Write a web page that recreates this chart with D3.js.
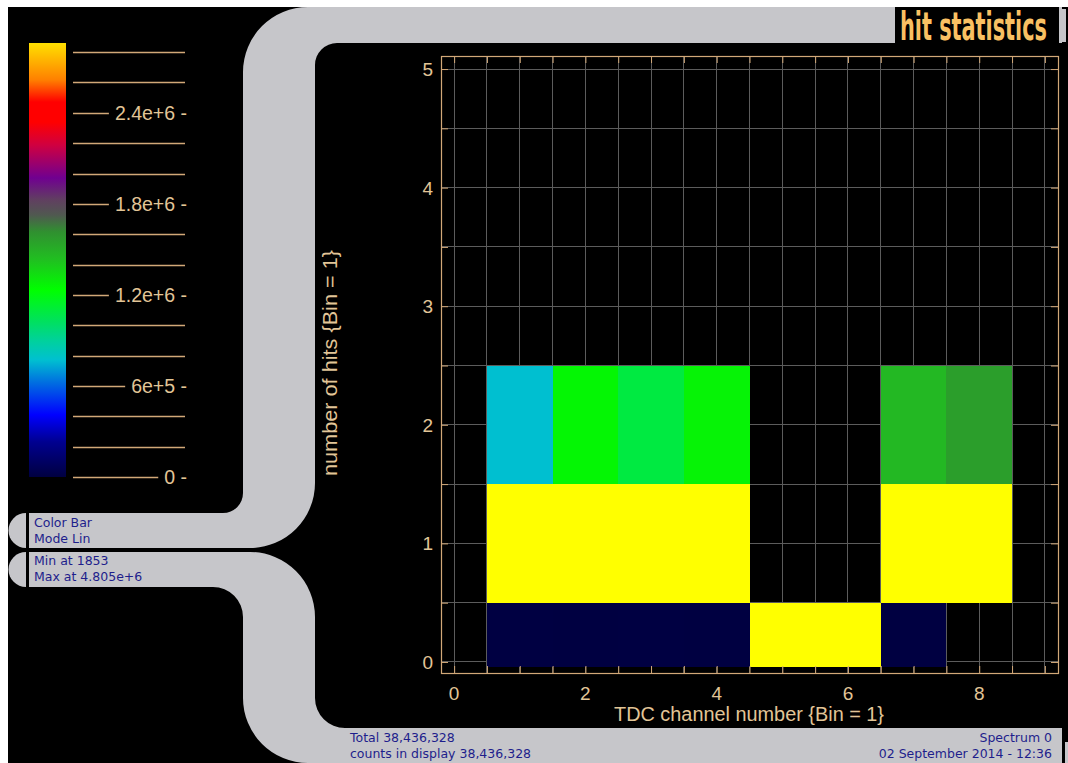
<!DOCTYPE html>
<html>
<head>
<meta charset="utf-8">
<script src="https://cdn.jsdelivr.net/npm/d3@7"></script>
<style>
  html, body { margin: 0; padding: 0; background: #ffffff; }
  svg { display: block; }
</style>
</head>
<body>
<svg id="chart" width="1068" height="763"></svg>
<script>
// ---------------- data ----------------
const channels = [1, 2, 3, 4, 5, 6, 7, 8];
const hitCounts = [0, 1, 2];
const zeroHits = [5200, 3100, 4400, 2600, 4804541, 4804541, 1853, 0];
const oneHit   = [4029341, 3541441, 3710141, 3531941, 0, 0, 3342688, 3244541];
const twoHits  = [770000, 1260000, 1090000, 1270000, 0, 0, 1460000, 1560000];

const xTickValues = [0, 2, 4, 6, 8];
const yTickValues = [0, 1, 2, 3, 4, 5];
const colorBarTicks = [0, 200000, 400000, 600000, 800000, 1000000, 1200000, 1400000,
                       1600000, 1800000, 2000000, 2200000, 2400000, 2600000, 2800000];
const colorBarLabelValues = [0, 600000, 1200000, 1800000, 2400000];
const colorBarLabels = ["0", "6e+5", "1.2e+6", "1.8e+6", "2.4e+6"];
const colorBarMax = 2860000;

const paletteStops  = [0, 0.081, 0.143, 0.219, 0.27, 0.311, 0.357, 0.431, 0.5, 0.565, 0.604, 0.638, 0.689, 0.765, 0.818, 0.864, 0.915, 1];
const paletteColors = ["#000040", "#000090", "#0000ff", "#0070e0", "#00c0d0", "#00d0a0", "#00e060", "#00ff00",
                       "#20c020", "#309030", "#505850", "#604060", "#700090", "#d00040", "#ff0000", "#ff0000", "#ff8000", "#ffe000"];
const overflowColor = "#ffff00";

const titleText = "hit statistics";
const xAxisTitle = "TDC channel number {Bin = 1}";
const yAxisTitle = "number of hits {Bin = 1}";
const infoBox1 = ["Color Bar", "Mode Lin"];
const infoBox2 = ["Min at 1853", "Max at 4.805e+6"];
const footerLeft = ["Total 38,436,328", "counts in display 38,436,328"];
const footerRight = ["Spectrum 0", "02 September 2014 - 12:36"];

// ---------------- styles ----------------
const GRAY = "#c6c6ca";
const TAN = "#e2c597";
const AXIS = "#d2a878";
const GRID = "#5c5c5c";
const BLUE = "#1e1e8c";
const FONT = "'Liberation Sans', Arial, sans-serif";
const INFO_FONT = "'DejaVu Sans', Verdana, sans-serif";

const svg = d3.select("#chart");

// background
svg.append("rect").attr("width", 1068).attr("height", 763).attr("fill", "#ffffff");
svg.append("rect").attr("x", 8).attr("y", 7).attr("width", 1060).attr("height", 756).attr("fill", "#000000");

// frame pipes
const frame = svg.append("g");
frame.append("path").attr("fill", GRAY).attr("d",
  "M243,72 A65,65 0 0 1 308,7 L1062,7 L1062,43 L337,43 A22,22 0 0 0 315,65 L315,483 " +
  "A65,65 0 0 1 250,548 L29,548 L29,513 L223,513 A20,20 0 0 0 243,493 Z");
frame.append("path").attr("fill", GRAY).attr("d", "M26,513 A17.5,17.5 0 0 0 26,548 Z");
frame.append("path").attr("fill", GRAY).attr("d",
  "M29,552 L250,552 A65,65 0 0 1 315,617 L315,698 A30,30 0 0 0 345,728 L1062,728 L1062,763 " +
  "L308,763 A65,65 0 0 1 243,698 L243,617 A30,30 0 0 0 213,587 L29,587 Z");
frame.append("path").attr("fill", GRAY).attr("d", "M26,552 A17.5,17.5 0 0 0 26,587 Z");
// title box + small right pieces
frame.append("rect").attr("x", 895).attr("y", 7).attr("width", 164).attr("height", 36).attr("fill", "#000");
frame.append("rect").attr("x", 1060).attr("y", 9).attr("width", 6).attr("height", 33).attr("fill", GRAY);
frame.append("rect").attr("x", 1065).attr("y", 742).attr("width", 3).attr("height", 21).attr("fill", GRAY);

// title (scaled by transform so that its box matches what is drawn)
const title = svg.append("text")
  .attr("x", 0).attr("y", 0)
  .style("font-family", "'DejaVu Sans Condensed', 'Liberation Sans Narrow', sans-serif")
  .style("font-weight", "bold").style("font-size", "31px")
  .attr("fill", "#f9c063").text(titleText);
const titleNatural = title.node().getComputedTextLength();
title.attr("transform", `translate(900,40) scale(${147 / titleNatural},1.25)`);

// ---------------- main plot ----------------
const plot = { left: 441, right: 1058, top: 56, bottom: 673 };
const x = d3.scaleLinear().domain([-0.2, 9.2]).range([plot.left, plot.right]);
const y = d3.scaleLinear().domain([-0.093, 5.11]).range([plot.bottom, plot.top]);
const cellFloor = -0.04;

const color = d3.scaleLinear()
  .domain(paletteStops.map(p => p * colorBarMax))
  .range(paletteColors)
  .clamp(true);
const cellColor = v => v > colorBarMax ? overflowColor : color(v);

// grid
const gridX = d3.range(0, 9.01, 0.5);
const gridY = d3.range(0, 5.01, 0.5);
const grid = svg.append("g");
grid.selectAll("line.gx").data(gridX).join("line")
  .attr("x1", d => x(d)).attr("x2", d => x(d))
  .attr("y1", plot.top).attr("y2", plot.bottom)
  .attr("stroke", GRID).attr("stroke-width", 1).attr("shape-rendering", "crispEdges");
grid.selectAll("line.gy").data(gridY).join("line")
  .attr("y1", d => y(d)).attr("y2", d => y(d))
  .attr("x1", plot.left).attr("x2", plot.right)
  .attr("stroke", GRID).attr("stroke-width", 1).attr("shape-rendering", "crispEdges");

// cells
const series = [zeroHits, oneHit, twoHits];
const cells = [];
hitCounts.forEach((h, i) => {
  channels.forEach((c, j) => {
    const v = series[i][j];
    if (v > 0) cells.push({ c, h, v });
  });
});
svg.append("g").selectAll("rect").data(cells).join("rect")
  .attr("x", d => x(d.c - 0.5))
  .attr("width", d => x(d.c + 0.5) - x(d.c - 0.5))
  .attr("y", d => y(d.h + 0.5))
  .attr("height", d => y(Math.max(d.h - 0.5, cellFloor)) - y(d.h + 0.5))
  .attr("fill", d => cellColor(d.v))
  .attr("shape-rendering", "crispEdges");

// axes (four sides, inward ticks every 0.5)
const tickLen = 7;
function styleAxis(g) {
  g.select(".domain").remove();
  g.selectAll(".tick line").attr("stroke", AXIS).attr("stroke-width", 1);
  g.selectAll(".tick text").remove();
}
svg.append("g").attr("transform", `translate(0,${plot.bottom})`)
  .call(d3.axisTop(x).tickValues(gridX).tickSize(tickLen)).call(styleAxis);
svg.append("g").attr("transform", `translate(0,${plot.top})`)
  .call(d3.axisBottom(x).tickValues(gridX).tickSize(tickLen)).call(styleAxis);
svg.append("g").attr("transform", `translate(${plot.left},0)`)
  .call(d3.axisRight(y).tickValues(gridY).tickSize(tickLen)).call(styleAxis);
svg.append("g").attr("transform", `translate(${plot.right},0)`)
  .call(d3.axisLeft(y).tickValues(gridY).tickSize(tickLen)).call(styleAxis);

svg.append("rect")
  .attr("x", plot.left + 0.5).attr("y", plot.top + 0.5)
  .attr("width", plot.right - plot.left).attr("height", plot.bottom - plot.top)
  .attr("fill", "none").attr("stroke", AXIS).attr("stroke-width", 1.2);

// tick labels
svg.append("g").selectAll("text").data(xTickValues).join("text")
  .attr("x", d => x(d)).attr("y", 700)
  .attr("text-anchor", "middle")
  .style("font-family", FONT).style("font-size", "19px")
  .attr("fill", TAN).text(d => d);
svg.append("g").selectAll("text").data(yTickValues).join("text")
  .attr("x", 433).attr("y", d => y(d) + 7)
  .attr("text-anchor", "end")
  .style("font-family", FONT).style("font-size", "19px")
  .attr("fill", TAN).text(d => d);

// axis titles
svg.append("text")
  .attr("x", 749).attr("y", 721).attr("text-anchor", "middle")
  .attr("textLength", 270).attr("lengthAdjust", "spacingAndGlyphs")
  .style("font-family", FONT).style("font-size", "20px")
  .attr("fill", TAN).text(xAxisTitle);
svg.append("text")
  .attr("transform", "translate(337,363) rotate(-90)")
  .attr("text-anchor", "middle")
  .attr("textLength", 226).attr("lengthAdjust", "spacingAndGlyphs")
  .style("font-family", FONT).style("font-size", "20px")
  .attr("fill", TAN).text(yAxisTitle);

// ---------------- colour bar ----------------
const cb = { left: 29, right: 66, top: 43, bottom: 477 };
const cbY = d3.scaleLinear().domain([0, colorBarMax]).range([cb.bottom, cb.top]);

const defs = svg.append("defs");
const grad = defs.append("linearGradient").attr("id", "cbgrad")
  .attr("x1", 0).attr("y1", 1).attr("x2", 0).attr("y2", 0);
grad.selectAll("stop").data(paletteStops).join("stop")
  .attr("offset", d => d)
  .attr("stop-color", (d, i) => paletteColors[i]);
svg.append("rect")
  .attr("x", cb.left).attr("y", cb.top)
  .attr("width", cb.right - cb.left).attr("height", cb.bottom - cb.top)
  .attr("fill", "url(#cbgrad)");

const cbG = svg.append("g");
const lineStart = 73, lineEnd = 185, labelRight = 187;
colorBarTicks.forEach(v => {
  const yy = Math.round(cbY(v)) + 0.5;
  const li = colorBarLabelValues.indexOf(v);
  let end = lineEnd;
  if (li >= 0) {
    const t = cbG.append("text")
      .attr("x", labelRight).attr("y", yy + 6.5)
      .attr("text-anchor", "end")
      .style("font-family", FONT).style("font-size", "19.5px")
      .attr("fill", TAN).text(colorBarLabels[li] + " -");
    end = t.node().getBBox().x - 6;
  }
  cbG.append("line")
    .attr("x1", lineStart).attr("x2", end).attr("y1", yy).attr("y2", yy)
    .attr("stroke", AXIS).attr("stroke-width", 1.3);
});

// ---------------- info texts ----------------
function infoLines(lines, xPos, yPos, anchor) {
  svg.append("g").selectAll("text").data(lines).join("text")
    .attr("x", xPos).attr("y", (d, i) => yPos + i * 16)
    .attr("text-anchor", anchor)
    .style("font-family", INFO_FONT).style("font-size", "12.5px")
    .attr("fill", BLUE).text(d => d);
}
infoLines(infoBox1, 34, 527, "start");
infoLines(infoBox2, 34, 565, "start");
infoLines(footerLeft, 350, 742, "start");
infoLines(footerRight, 1052, 742, "end");
</script>
</body>
</html>
